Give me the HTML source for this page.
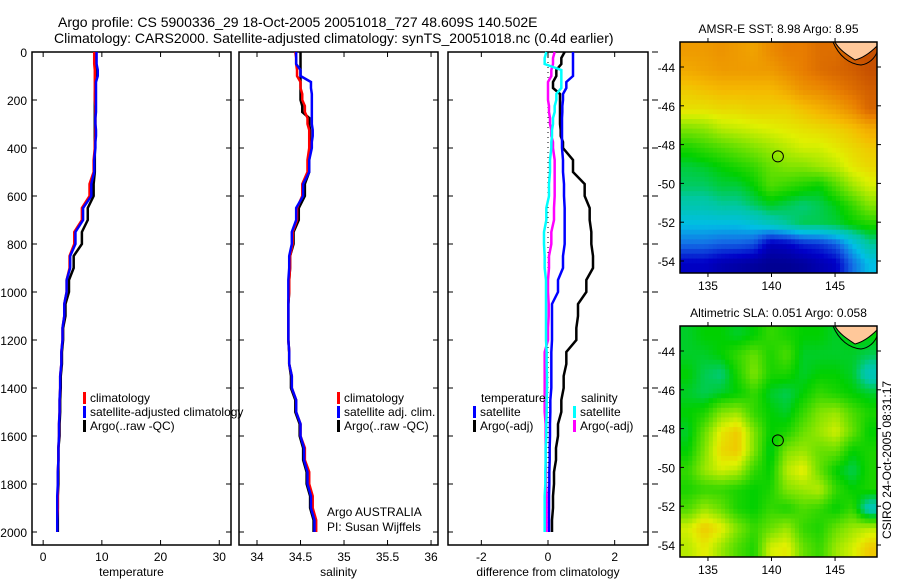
<!DOCTYPE html>
<html><head><meta charset="utf-8"><style>
html,body{margin:0;padding:0;background:#fff;}
svg{display:block;font-family:"Liberation Sans",sans-serif;}
</style></head><body>
<svg id="chart" width="900" height="580" viewBox="0 0 900 580" xmlns="http://www.w3.org/2000/svg"></svg>
<script>
// ---- data ----
const depths = [0,50,100,150,200,250,300,350,400,500,600,700,800,900,1000,1100,1200,1300,1400,1500,1600,1700,1800,1900,2000];
const tempClim = [8.7,8.7,8.8,8.8,8.8,8.9,8.9,8.9,8.8,8.6,7.9,6.6,5.3,4.5,4.0,3.6,3.3,3.1,2.9,2.8,2.7,2.6,2.5,2.5,2.4];
const tempSat  = [9.1,9.1,9.3,9.0,9.0,9.0,8.9,9.0,8.9,8.7,8.2,6.8,5.5,4.6,4.0,3.6,3.3,3.1,2.9,2.8,2.7,2.6,2.5,2.4,2.4];
const tempArgo = [8.9,8.9,8.9,8.9,8.8,8.8,8.8,8.8,8.8,8.8,8.6,7.6,6.6,5.2,4.4,3.8,3.4,3.2,3.0,2.9,2.8,2.6,2.6,2.5,2.5];
const salClim = [34.44,34.45,34.46,34.50,34.52,34.55,34.58,34.60,34.60,34.58,34.52,34.46,34.41,34.38,34.37,34.36,34.36,34.37,34.40,34.45,34.50,34.55,34.60,34.64,34.68];
const salSat  = [34.45,34.45,34.50,34.62,34.63,34.63,34.63,34.64,34.63,34.60,34.53,34.45,34.40,34.37,34.36,34.36,34.36,34.37,34.40,34.45,34.50,34.54,34.58,34.62,34.66];
const salArgo = [34.50,34.50,34.50,34.50,34.50,34.52,34.60,34.61,34.61,34.60,34.55,34.48,34.42,34.38,34.37,34.36,34.36,34.37,34.39,34.44,34.49,34.53,34.57,34.61,34.65];
const diffTSat  = [0.75,0.75,0.75,0.55,0.45,0.43,0.42,0.42,0.42,0.45,0.48,0.5,0.5,0.45,0.3,0.12,0.12,0.1,0.1,0.07,0.06,0.05,0.04,0.03,0.03];
const diffTArgo = [0.5,0.4,0.25,0.15,0.36,0.36,0.36,0.38,0.45,0.75,1.1,1.25,1.3,1.35,1.15,0.9,0.85,0.55,0.47,0.4,0.3,0.24,0.18,0.15,0.12];
const diffSSat  = [-0.05,-0.1,0.4,0.4,0.25,0.2,0.15,0.12,0.1,0.06,0.03,-0.05,-0.12,-0.1,-0.06,-0.06,-0.06,-0.04,-0.03,-0.04,-0.05,-0.07,-0.08,-0.1,-0.1];
const diffSArgo = [0.2,0.15,0.1,0.0,0.0,0.03,0.06,0.1,0.15,0.2,0.2,0.18,0.1,0.03,0.0,0.02,0.0,-0.1,-0.1,-0.1,-0.07,-0.07,-0.06,-0.04,-0.04];
const depthTicks = [0,200,400,600,800,1000,1200,1400,1600,1800,2000];
const tempTicks = [0,10,20,30];
const salTicks = [34,34.5,35,35.5,36];
const salTickLabels = ["34","34.5","35","35.5","36"];
const diffTicks = [-2,0,2];
const latTicks = [-44,-46,-48,-50,-52,-54];
const lonTicks = [135,140,145];
const sstGrid = [
[.86,.86,.87,.86,.85,.88,.90,.90,.92,.92,.95,.96],
[.84,.85,.86,.86,.86,.86,.88,.90,.92,.93,.94,.96],
[.80,.81,.82,.82,.82,.82,.84,.87,.88,.90,.92,.94],
[.77,.77,.78,.78,.79,.79,.79,.81,.83,.85,.88,.93],
[.68,.69,.72,.73,.74,.75,.76,.77,.78,.79,.81,.84],
[.60,.62,.64,.66,.68,.70,.72,.74,.74,.76,.78,.80],
[.55,.56,.58,.60,.62,.66,.68,.68,.70,.72,.76,.78],
[.53,.53,.55,.55,.58,.64,.62,.60,.58,.64,.70,.74],
[.48,.48,.50,.50,.53,.56,.54,.52,.54,.57,.62,.68],
[.40,.40,.40,.40,.42,.46,.50,.54,.54,.55,.58,.60],
[.30,.30,.28,.28,.26,.12,.14,.20,.22,.28,.40,.50],
[.14,.14,.10,.08,.06,.04,.04,.06,.10,.14,.30,.40]];
const slaGrid = [
[.56,.58,.58,.56,.58,.62,.60,.58,.58,.56,.58,.58],
[.56,.56,.58,.62,.66,.60,.64,.56,.56,.56,.56,.54],
[.58,.54,.52,.60,.68,.60,.60,.56,.58,.58,.56,.46],
[.56,.54,.56,.58,.62,.56,.54,.58,.62,.60,.58,.56],
[.58,.60,.68,.70,.62,.58,.56,.62,.68,.70,.64,.60],
[.56,.66,.76,.80,.68,.58,.60,.66,.70,.74,.66,.58],
[.58,.68,.78,.80,.68,.56,.68,.70,.66,.66,.58,.60],
[.62,.70,.74,.72,.62,.58,.72,.76,.66,.58,.54,.60],
[.60,.62,.62,.60,.58,.60,.68,.70,.72,.62,.58,.60],
[.64,.70,.66,.60,.58,.62,.60,.64,.62,.58,.62,.46],
[.74,.80,.76,.68,.62,.66,.70,.62,.60,.66,.70,.72],
[.72,.76,.70,.64,.60,.74,.76,.66,.62,.70,.74,.80]];
const argoLon = 140.502, argoLat = -48.609;

const NS="http://www.w3.org/2000/svg";
const svg=document.getElementById('chart');
function mk(tag,attrs,parent){const e=document.createElementNS(NS,tag);for(const k in attrs)e.setAttribute(k,attrs[k]);(parent||svg).appendChild(e);return e;}
function txt(x,y,s,size,anchor,parent){const t=mk('text',{x:x,y:y,'font-size':size,'text-anchor':anchor||'start',fill:'#000'},parent);t.textContent=s;return t;}

const yD = d => 52 + d*0.24;
const panels = [
 {x0:32,x1:231,vmin:-1.9,vmax:32,ticks:tempTicks,labels:tempTicks.map(String),title:'temperature',name:'temperature-panel'},
 {x0:239,x1:438,vmin:33.793,vmax:36.08,ticks:salTicks,labels:salTickLabels,title:'salinity',name:'salinity-panel'},
 {x0:448,x1:648,vmin:-3.0,vmax:3.0,ticks:diffTicks,labels:['-2','0','2'],title:'difference from climatology',name:'difference-panel'}
];
panels.forEach((p,i)=>{
  p.sx = v => p.x0 + (v-p.vmin)/(p.vmax-p.vmin)*(p.x1-p.x0);
  const g=mk('g',{});
  
  
  const fr=mk('rect',{x:p.x0,y:52,width:p.x1-p.x0,height:493,fill:'none',stroke:'#000','stroke-width':1.5},g);
  
  
  p.ticks.forEach((t,j)=>{
    const x=p.sx(t);
    mk('line',{x1:x,y1:545,x2:x,y2:540,stroke:'#000'},g);
    mk('line',{x1:x,y1:52,x2:x,y2:57,stroke:'#000'},g);
    const l=txt(x,561,p.labels[j],12,'middle',g);
    
    
  });
  const at=txt((p.x0+p.x1)/2,576,p.title,12,'middle',g);
  
  
  depthTicks.forEach(d=>{
    const y=yD(d);
    mk('line',{x1:p.x0,y1:y,x2:p.x0+5,y2:y,stroke:'#000'},g);
    mk('line',{x1:p.x1,y1:y,x2:p.x1-5,y2:y,stroke:'#000'},g);
    if(i===0){const l=txt(27,y+5,String(d),12,'end',g);
      
      }
  });
});
depthTicks.forEach(d=>{mk('line',{x1:652,y1:yD(d),x2:658,y2:yD(d),stroke:'#000'});});

function series(p,vals,color,name){
  let pts=[];
  vals.forEach((v,k)=>{
    const x=p.sx(v),y=yD(depths[k]);
    if(k>0){pts.push(x+','+yD(depths[k-1]+ (depths[k]-depths[k-1])*0.5));}
    pts.push(x+','+y);
  });
  const l=mk('polyline',{points:pts.join(' '),fill:'none',stroke:color,'stroke-width':2.5});
  
  
}
const zl=mk('line',{x1:panels[2].sx(0),y1:52,x2:panels[2].sx(0),y2:532,stroke:'#000','stroke-dasharray':'1,4'});



series(panels[0],tempArgo,'#000','temp-argo-line');
series(panels[0],tempClim,'#f00','temp-climatology-line');
series(panels[0],tempSat,'#00f','temp-satellite-line');
series(panels[1],salArgo,'#000','sal-argo-line');
series(panels[1],salClim,'#f00','sal-climatology-line');
series(panels[1],salSat,'#00f','sal-satellite-line');
series(panels[2],diffTArgo,'#000','diff-temp-argo-line');
series(panels[2],diffTSat,'#00f','diff-temp-satellite-line');
series(panels[2],diffSArgo,'#f0f','diff-sal-argo-line');
series(panels[2],diffSSat,'#0ff','diff-sal-satellite-line');

function legend(x,y,color,label){
  if(color){const r=mk('rect',{x:x,y:y-10,width:3,height:12,fill:color});
    
    }
  const t=txt(x+7,y,label,12,'start');
  
  
}
legend(83,402,'#f00','climatology');
legend(83,416,'#00f','satellite-adjusted climatology');
legend(83,430,'#000','Argo(..raw -QC)');
legend(337,402,'#f00','climatology');
legend(337,416,'#00f','satellite adj. clim.');
legend(337,430,'#000','Argo(..raw -QC)');
legend(474,402,null,'temperature');
legend(473,416,'#00f','satellite');
legend(473,430,'#000','Argo(-adj)');
legend(574,402,null,'salinity');
legend(573,416,'#0ff','satellite');
legend(573,430,'#f0f','Argo(-adj)');
const ag1=txt(327,516,'Argo AUSTRALIA',12);


const ag2=txt(327,531,'PI: Susan Wijffels',12);



const t1=txt(58,27,'Argo profile: CS 5900336_29 18-Oct-2005 20051018_727 48.609S 140.502E',14);


const t2=txt(54,43,'Climatology: CARS2000. Satellite-adjusted climatology: synTS_20051018.nc (0.4d earlier)',14);



const stops=[[0,[0,0,128]],[0.15,[0,0,200]],[0.3,[20,110,230]],[0.4,[0,190,230]],[0.5,[0,200,160]],[0.58,[0,208,0]],[0.68,[128,228,0]],[0.75,[224,240,0]],[0.82,[245,185,0]],[0.9,[232,125,0]],[1,[176,50,0]]];
function cmap(v){for(let i=1;i<stops.length;i++){if(v<=stops[i][0]){const a=stops[i-1],b=stops[i];const f=(v-a[0])/(b[0]-a[0]);return 'rgb('+a[1].map((c,j)=>Math.round(c+(b[1][j]-c)*f)).join(',')+')';}}return 'rgb(176,50,0)';}
function sample(grid,fr,fc){
  const rows=grid.length,cols=grid[0].length;
  let r=Math.min(Math.max(fr-0.5,0),rows-1),c=Math.min(Math.max(fc-0.5,0),cols-1);
  const r0=Math.floor(r),c0=Math.floor(c),r1=Math.min(r0+1,rows-1),c1=Math.min(c0+1,cols-1);
  const a=r-r0,b=c-c0;
  return grid[r0][c0]*(1-a)*(1-b)+grid[r0][c1]*(1-a)*b+grid[r1][c0]*a*(1-b)+grid[r1][c1]*a*b;
}

function drawMap(y0,grid,title,name){
  const x0=680,x1=877,y1=y0+231;
  const lonMin=132.8,lonMax=148.3;
  const lx=lon=>x0+(lon-lonMin)/(lonMax-lonMin)*(x1-x0);
  const ly=lat=>y0+25+(-44-lat)*19.4;
  const g=mk('g',{});
  
  
  const rows=grid.length,cols=grid[0].length;
  const sub=4, R=rows*sub, C=cols*sub;
  const cw=(x1-x0)/C,ch=(y1-y0)/R;
  for(let r=0;r<R;r++)for(let c=0;c<C;c++){
    const v=sample(grid,(r+0.5)/sub,(c+0.5)/sub);
    const cell=mk('rect',{x:(x0+c*cw).toFixed(2),y:(y0+r*ch).toFixed(2),width:(cw+0.4).toFixed(2),height:(ch+0.4).toFixed(2),fill:cmap(v)},g);
    
    
  }
  const land=mk('path',{d:`M${x1-42},${y0} C${x1-38},${y0+8} ${x1-28},${y0+14} ${x1-22},${y0+18} C${x1-14},${y0+16} ${x1-6},${y0+10} ${x1},${y0+4} L${x1},${y0} Z`,fill:'#ffc89a',stroke:'#000','stroke-width':1},g);
  
  
  mk('path',{d:`M${x1-44},${y0} C${x1-38},${y0+14} ${x1-28},${y0+22} ${x1-16},${y0+23} C${x1-8},${y0+22} ${x1-2},${y0+16} ${x1},${y0+10}`,fill:'none',stroke:'#000','stroke-width':1},g);
  mk('rect',{x:x0,y:y0,width:x1-x0,height:y1-y0,fill:'none',stroke:'#000','stroke-width':1.5},g);
  latTicks.forEach(l=>{const y=ly(l);
    mk('line',{x1:x0,y1:y,x2:x0+4,y2:y,stroke:'#000'},g);
    mk('line',{x1:x1,y1:y,x2:x1+4,y2:y,stroke:'#000'},g);
    const t=txt(x0-5,y+5,String(l),12,'end',g);
    
    });
  lonTicks.forEach(l=>{const x=lx(l);
    mk('line',{x1:x,y1:y1,x2:x,y2:y1+4,stroke:'#000'},g);
    mk('line',{x1:x,y1:y0,x2:x,y2:y0-4,stroke:'#000'},g);
    const t=txt(x,y1+17,String(l),12,'middle',g);
    
    });
  const m=mk('circle',{cx:lx(argoLon),cy:ly(argoLat),r:5.5,fill:'none',stroke:'#000','stroke-width':1},g);
  
  
  const tt=txt((x0+x1)/2,y0-9,title,12,'middle',g);
  
  
}
drawMap(42,sstGrid,'AMSR-E SST: 8.98 Argo: 8.95','sst-map');
drawMap(326,slaGrid,'Altimetric SLA: 0.051 Argo: 0.058','sla-map');

const stamp=txt(0,0,'CSIRO 24-Oct-2005 08:31:17',12,'middle');
stamp.setAttribute('transform','translate(891,460) rotate(-90)');


</script>
</body></html>
